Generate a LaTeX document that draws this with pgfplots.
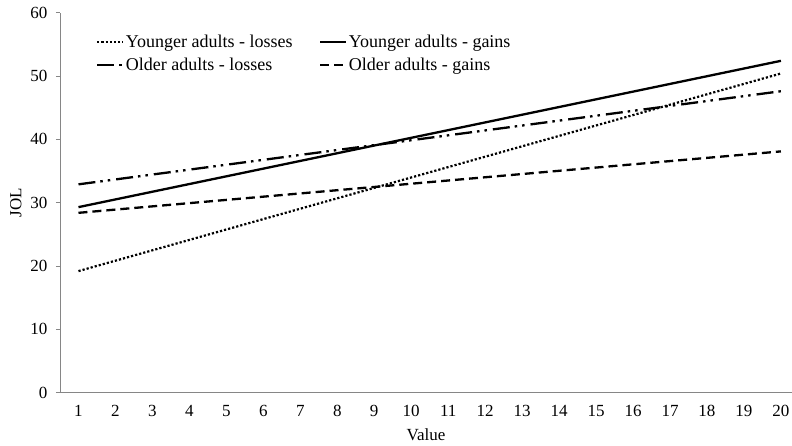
\documentclass[border=0pt]{standalone}
\usepackage{pgfplots}
\pgfplotsset{compat=1.18}
\usepackage{fontspec}
\setmainfont{Liberation Serif}
\definecolor{axgray}{RGB}{134,134,134}
\begin{document}
\begin{tikzpicture}
\begin{axis}[
  width=732pt, height=380pt, scale only axis,
  xmin=0.5, xmax=20.3, ymin=0, ymax=60,
  axis lines*=left,
  axis line style={axgray, line width=0.9pt},
  xtick={1,...,20}, ytick={0,10,...,60},
  xtick style={draw=none},
  ytick style={axgray, line width=0.9pt},
  tick align=outside, major tick length=4pt,
  font=\fontsize{17}{20}\selectfont,
  /pgf/number format/assume math mode=true,
  xticklabel style={yshift=-5pt},
  yticklabel style={xshift=-5pt},
  xlabel={Value}, ylabel={JOL},
  xlabel style={yshift=-5pt},
  ylabel style={yshift=2pt},
  legend columns=2,
  legend cell align=left,
  legend style={draw=none, fill=none, inner sep=0pt,
    at={(0.049,0.945)}, anchor=north west,
    nodes={inner sep=1.5pt},
    /tikz/every even column/.append style={column sep=25pt},
    row sep=5.5pt, font=\fontsize{18}{21}\selectfont},
  legend image code/.code={\draw[#1] (0pt,0pt) -- (26pt,0pt);},
]
\addplot[black, line width=2.2pt, dash pattern=on 2.2pt off 2.0pt] coordinates {(1,19.2) (20,50.4)};
\addlegendentry{Younger adults - losses}
\addplot[black, line width=2.3pt] coordinates {(1,29.3) (20,52.4)};
\addlegendentry{Younger adults - gains}
\addplot[black, line width=2.3pt, dash pattern=on 17pt off 5pt on 2.5pt off 5pt on 2.5pt off 6pt] coordinates {(1,32.9) (20,47.6)};
\addlegendentry{Older adults - losses}
\addplot[black, line width=2.3pt, dash pattern=on 9pt off 5pt] coordinates {(1,28.4) (20,38.1)};
\addlegendentry{Older adults - gains}
\end{axis}
\pgfresetboundingbox
\path[use as bounding box] ([xshift=-60pt,yshift=-53.3pt]current axis.south west) rectangle ([yshift=12.7pt]current axis.north east);
\end{tikzpicture}
\end{document}
